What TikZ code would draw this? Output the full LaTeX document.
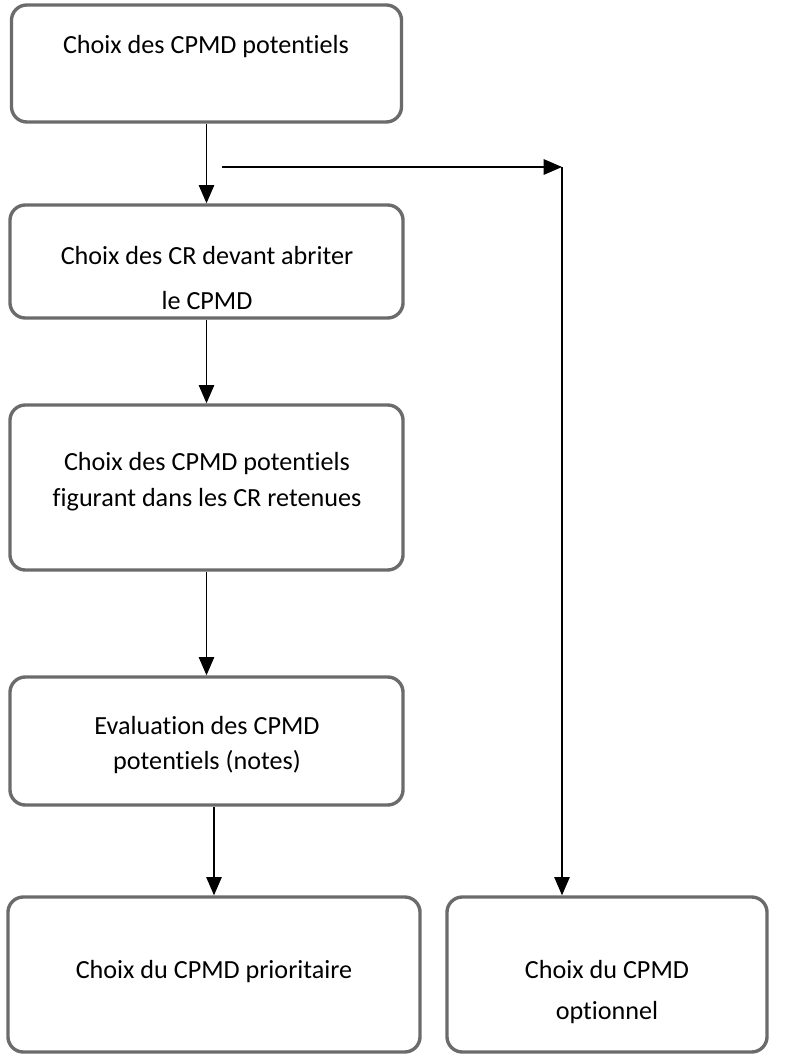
\documentclass[tikz,border=0pt]{standalone}
\usepackage{fontspec}
\setmainfont{Carlito}[Ligatures=NoCommon]
\usetikzlibrary{arrows.meta,positioning}

\tikzset{
  stage/.style={draw=black!58, line width=2.4pt, rounded corners=11pt, inner sep=0pt},
  stagetext/.style={align=center, font=\fontsize{18.6}{25.5}\selectfont},
  flow/.style={-{Triangle[width=11pt,length=13pt]}, line width=0.9pt}
}

\begin{document}
\begin{tikzpicture}[x=0.025cm, y=-0.025cm]
\useasboundingbox (0,0) rectangle (798,1062);

% Stage boxes (left column)
\node[stage, minimum width=9.75cm, minimum height=2.925cm] (choix) at (206.5,63.5) {};
\node[stage, minimum width=9.825cm, minimum height=2.825cm] (cr) at (206.5,261.5) {};
\node[stage, minimum width=9.825cm, minimum height=4.125cm] (retenues) at (206.5,487.5) {};
\node[stage, minimum width=9.825cm, minimum height=3.2cm] (eval) at (206.5,741) {};
% Final choices
\node[stage, minimum width=10.3cm, minimum height=3.875cm] (prio) at (214,974.5) {};
\node[stage, minimum width=8cm, minimum height=3.875cm] (option) at (607,974.5) {};

% Box texts
\node[stagetext] (tchoix) at (206,47) {Choix des CPMD potentiels};
\node[stagetext] (tcr) at (207,278) {Choix des CR devant abriter\\[6pt]le CPMD};
\node[stagetext] (tretenues) at (207,482) {Choix des CPMD potentiels\\figurant dans les CR retenues};
\node[stagetext] (teval) at (207,745) {Evaluation des CPMD\\potentiels (notes)};
\node[stagetext] (tprio) at (214,972) {Choix du CPMD prioritaire};
\node[stagetext] (toption) at (607,992) {Choix du CPMD\\[3pt]optionnel};

% Main flow
\foreach \a/\b in {choix/cr, cr/retenues, retenues/eval}
  \draw[flow] (\a.south) -- (\b.north);
\draw[flow] (eval.south -| prio.north) -- (prio.north);

% Side branch
\coordinate (split) at (222,167);
\coordinate (corner) at (562,167);
\draw[flow] (split) -- (corner);
\draw[flow] (corner) -- (corner |- option.north);

\end{tikzpicture}
\end{document}
